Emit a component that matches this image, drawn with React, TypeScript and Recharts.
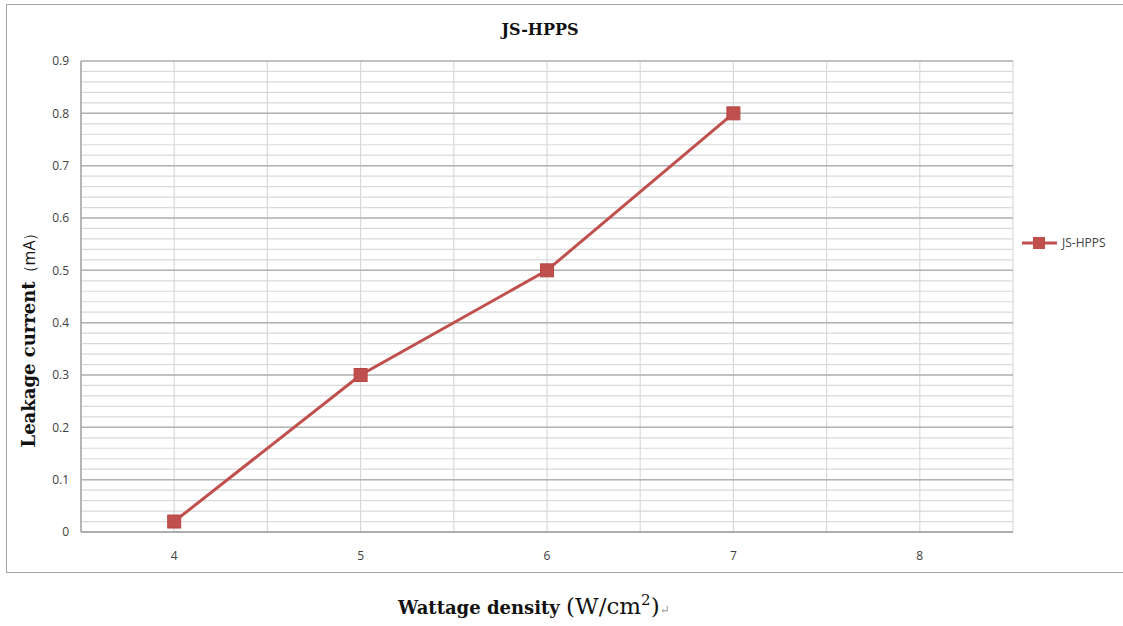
import React from 'react';
import {
  LineChart,
  Line,
  XAxis,
  YAxis,
  CartesianGrid,
} from 'recharts';

const categories = [4, 5, 6, 7, 8];
const leakage: (number | null)[] = [0.02, 0.3, 0.5, 0.8, null];
const yTicks = [0, 0.1, 0.2, 0.3, 0.4, 0.5, 0.6, 0.7, 0.8, 0.9];
const seriesName = 'JS-HPPS';

const data = categories.map((c, i) => ({ x: c, value: leakage[i] }));

// minor grid positions (half categories, 0.02 steps)
const minorX = categories.flatMap((c) => [c - 0.5, c]).concat(categories[categories.length - 1] + 0.5);
const minorY = Array.from({ length: 46 }, (_, i) => Math.round(i * 2) / 100);

const RED = '#c0504d';
const serif = '"DejaVu Serif", "Liberation Serif", serif';
const sans = '"Open Sans", "Liberation Sans", sans-serif';

const Square = (props: any) => {
  const { cx, cy } = props;
  if (cx == null || cy == null) return null;
  return <rect x={cx - 6.5} y={cy - 6.5} width={13} height={13} fill={RED} stroke="#b84743" strokeWidth={1} />;
};

export default function App() {
  return (
    <div style={{ position: 'absolute', left: 0, top: 0, width: 1123, height: 626, background: '#fff' }}>
      <div
        style={{
          position: 'absolute',
          left: 6,
          top: 4,
          width: 1130,
          height: 569,
          border: '1.5px solid #a6a6a6',
          boxSizing: 'border-box',
        }}
      />
      <div
        style={{
          position: 'absolute',
          left: 440,
          width: 200,
          top: 20,
          textAlign: 'center',
          fontFamily: serif,
          fontWeight: 'bold',
          fontSize: 16,
          color: '#111',
        }}
      >
        {seriesName}
      </div>
      <div
        style={{
          position: 'absolute',
          left: 29,
          top: 336,
          transform: 'translate(-50%, -50%) rotate(-90deg)',
          whiteSpace: 'nowrap',
          fontFamily: serif,
          fontWeight: 'bold',
          fontSize: 18,
          color: '#111',
        }}
      >
        Leakage current<span style={{ fontFamily: sans, fontWeight: 'normal', fontSize: 16 }}>（mA）</span>
      </div>
      <div
        style={{
          position: 'absolute',
          left: 398,
          top: 591,
          whiteSpace: 'nowrap',
          fontFamily: serif,
          color: '#111',
        }}
      >
        <span style={{ fontWeight: 'bold', fontSize: 18 }}>Wattage density </span>
        <span style={{ fontSize: 23 }}>
          (W/cm<sup style={{ fontSize: 15 }}>2</sup>)
        </span>
        <span style={{ fontSize: 12, color: '#999' }}>↵</span>
      </div>
      <div
        style={{
          position: 'absolute',
          left: 1022,
          top: 234,
          display: 'flex',
          alignItems: 'center',
          fontFamily: sans,
          fontSize: 12,
          color: '#404040',
        }}
      >
        <svg width={36} height={14}>
          <line x1={0} y1={7} x2={35} y2={7} stroke={RED} strokeWidth={3} />
          <rect x={11} y={1} width={12} height={12} fill={RED} />
        </svg>
        <span style={{ marginLeft: 4 }}>{seriesName}</span>
      </div>
      <div style={{ position: 'absolute', left: 0, top: 0 }}>
        <LineChart
          width={1123}
          height={626}
          data={data}
          margin={{ top: 61, right: 110, left: 0, bottom: 64 }}
        >
          <XAxis
            dataKey="x"
            type="number"
            domain={[3.5, 8.5]}
            ticks={categories}
            tickLine={false}
            tickSize={0}
            tickMargin={19}
            height={30}
            axisLine={{ stroke: '#a6a6a6', strokeWidth: 1.5 }}
            tick={{ fill: '#404040', fontSize: 12, fontFamily: sans }}
          />
          <XAxis xAxisId="minor" type="number" dataKey="x" domain={[3.5, 8.5]} ticks={minorX} interval={0} hide />
          <YAxis
            domain={[0, 0.9]}
            ticks={yTicks}
            width={81}
            tickLine={false}
            tickSize={0}
            tickMargin={12}
            axisLine={{ stroke: '#a6a6a6', strokeWidth: 1.5 }}
            tick={{ fill: '#404040', fontSize: 12, fontFamily: sans }}
          />
          <YAxis
            yAxisId="minor"
            dataKey="value"
            type="number"
            domain={[0, 0.9]}
            ticks={minorY}
            interval={0}
            allowDataOverflow
            hide
          />
          <CartesianGrid xAxisId="minor" yAxisId="minor" stroke="#d9d9d9" strokeWidth={1.2} />
          <CartesianGrid vertical={false} stroke="#b3b3b3" strokeWidth={1.5} />
          <Line
            type="linear"
            dataKey="value"
            name={seriesName}
            stroke={RED}
            strokeWidth={3}
            dot={<Square />}
            activeDot={false}
            isAnimationActive={false}
          />
        </LineChart>
      </div>
    </div>
  );
}
